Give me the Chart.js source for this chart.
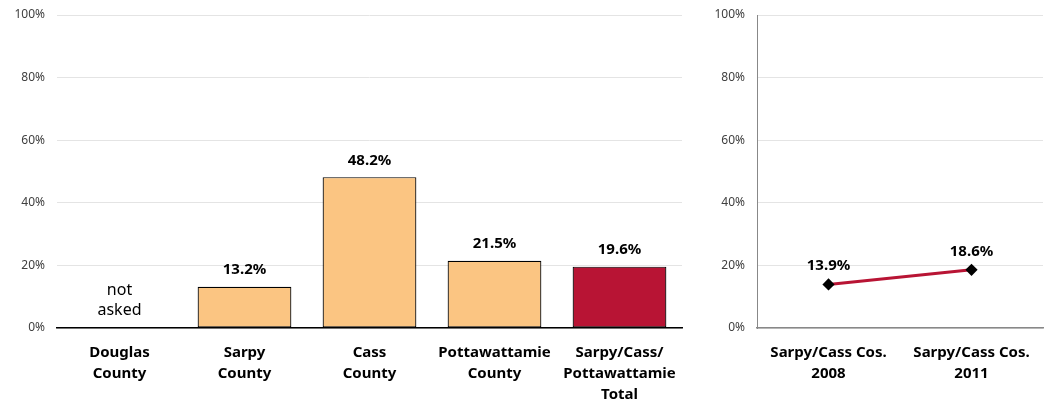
<!DOCTYPE html>
<html>
<head>
<meta charset="utf-8">
<script src="https://cdn.jsdelivr.net/npm/chart.js@4"></script>
<style>
    body { margin: 0; background: #fff; }
    .wrap { position: relative; width: 1050px; height: 400px; }
    #barChart { position: absolute; left: 0; top: 0; }
    #lineChart { position: absolute; left: 700px; top: 0; }
</style>
</head>
<body>
<div class="wrap">
    <canvas id="barChart" width="700" height="400"></canvas>
    <canvas id="lineChart" width="350" height="400"></canvas>
</div>
<script>
// chart data
const barCategories = [["Douglas", "County"], ["Sarpy", "County"], ["Cass", "County"], ["Pottawattamie", "County"], ["Sarpy/Cass/", "Pottawattamie", "Total"]];
const barValues = [null, 13.2, 48.2, 21.5, 19.6];
const barNotes = ["not asked", null, null, null, null];
const barColors = ["#fbc582", "#fbc582", "#fbc582", "#fbc582", "#b81434"];

const lineCategories = [["Sarpy/Cass Cos.", "2008"], ["Sarpy/Cass Cos.", "2011"]];
const lineValues = [13.9, 18.6];

const yTicks = [0, 20, 40, 60, 80, 100];

const fontFamily = "'Noto Sans', 'Open Sans', sans-serif";

// draws value labels above bars / points, plus "not asked" note
const valueLabels = {
    id: "valueLabels",
    afterDatasetsDraw(chart) {
        const ctx = chart.ctx;
        const meta = chart.getDatasetMeta(0);
        const data = chart.data.datasets[0].data;
        const yScale = chart.scales.y;
        const opts = chart.options.plugins.valueLabels;
        ctx.save();
        ctx.textAlign = "center";
        ctx.textBaseline = "bottom";
        meta.data.forEach((el, i) => {
            const v = data[i];
            if (v === null || v === undefined) {
                if (opts.notes && opts.notes[i]) {
                    ctx.font = "16px " + fontFamily;
                    ctx.fillStyle = "#000";
                    const words = opts.notes[i].split(" ");
                    const base = yScale.getPixelForValue(0);
                    ctx.fillText(words[0], el.x, base - 30);
                    ctx.fillText(words[1], el.x, base - 10);
                }
                return;
            }
            ctx.font = "bold 15px " + fontFamily;
            ctx.fillStyle = "#000";
            ctx.fillText(v.toFixed(1) + "%", el.x, el.y - opts.offset);
        });
        ctx.restore();
    }
};

const yAxis = (lineColor, showBorder) => ({
    min: 0,
    max: 100,
    afterBuildTicks(scale) {
        scale.ticks = yTicks.map(v => ({ value: v }));
    },
    afterFit(scale) {
        scale.width = 57;
        scale.paddingTop = 0;
        scale.paddingBottom = 0;
    },
    ticks: {
        callback: v => v + "%",
        font: { family: fontFamily, size: 12 },
        color: "#404040",
        padding: 12
    },
    grid: { color: "#e4e4e4", drawTicks: false, lineWidth: 1 },
    border: { display: showBorder, color: lineColor }
});

const xAxis = (lineColor, width) => ({
    afterFit(scale) { scale.height = 72; },
    ticks: {
        font: { family: fontFamily, size: 15, weight: "bold", lineHeight: 1.4 },
        color: "#000",
        padding: 14,
        maxRotation: 0,
        autoSkip: false
    },
    grid: { display: false, drawTicks: false },
    border: { color: lineColor, width: width }
});

new Chart(document.getElementById("barChart"), {
    type: "bar",
    data: {
        labels: barCategories,
        datasets: [{
            data: barValues,
            backgroundColor: barColors,
            borderColor: "#000",
            borderWidth: 1.2,
            borderSkipped: false,
            barPercentage: 0.75,
            categoryPercentage: 1
        }]
    },
    options: {
        responsive: false,
        maintainAspectRatio: false,
        animation: false,
        layout: { padding: { top: 15, right: 18, left: 0, bottom: 0 } },
        scales: { x: xAxis("#000", 1.5), y: yAxis("#000", false) },
        plugins: {
            legend: { display: false },
            tooltip: { enabled: false },
            valueLabels: { offset: 9, notes: barNotes }
        }
    },
    plugins: [valueLabels]
});

new Chart(document.getElementById("lineChart"), {
    type: "line",
    data: {
        labels: lineCategories,
        datasets: [{
            data: lineValues,
            borderColor: "#b81434",
            borderWidth: 3,
            pointStyle: "rectRot",
            pointRadius: 4,
            pointBackgroundColor: "#000",
            pointBorderColor: "#000",
            tension: 0
        }]
    },
    options: {
        responsive: false,
        maintainAspectRatio: false,
        animation: false,
        layout: { padding: { top: 15, right: 3, left: 0, bottom: 0 } },
        scales: {
            x: Object.assign(xAxis("#888", 1.5), { offset: true }),
            y: yAxis("#888", true)
        },
        plugins: {
            legend: { display: false },
            tooltip: { enabled: false },
            valueLabels: { offset: 11, notes: null }
        }
    },
    plugins: [valueLabels]
});
</script>
</body>
</html>
